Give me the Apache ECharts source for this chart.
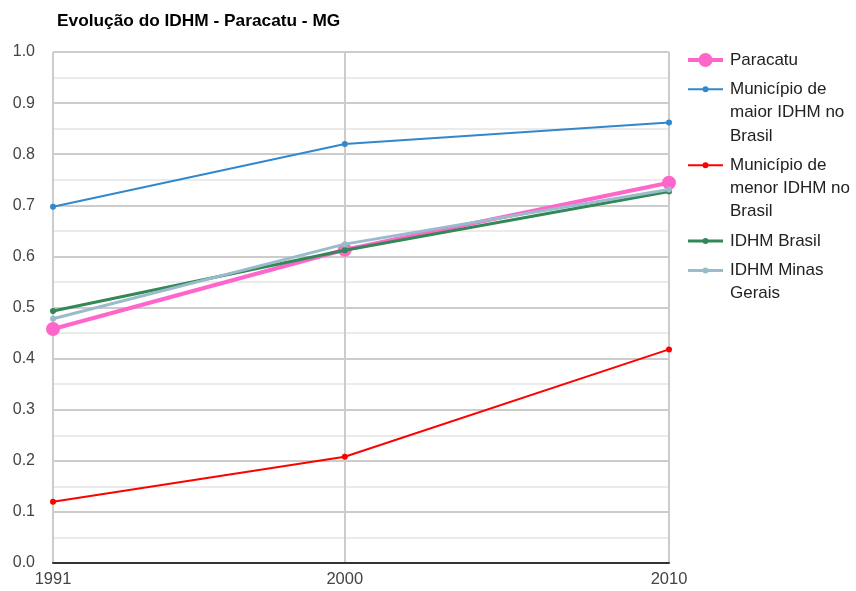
<!DOCTYPE html>
<html>
<head>
<meta charset="utf-8">
<script src="https://cdn.jsdelivr.net/npm/echarts@6/dist/echarts.min.js"></script>
<style>
  html, body { margin: 0; padding: 0; background: #fff; }
  #chart { width: 856px; height: 591px; }
</style>
</head>
<body>
<div id="chart"></div>
<script>
// Census years and IDHM values per series
const years = [1991, 2000, 2010];
const yTicks = [0, 0.1, 0.2, 0.3, 0.4, 0.5, 0.6, 0.7, 0.8, 0.9, 1.0];
const paracatu = [0.458, 0.613, 0.744];
const maiorIdhm = [0.697, 0.820, 0.862];
const menorIdhm = [0.120, 0.208, 0.418];
const idhmBrasil = [0.493, 0.612, 0.727];
const idhmMinas = [0.478, 0.624, 0.731];

const seriesDefs = [
  { name: 'Paracatu', label: ['Paracatu'], data: paracatu, color: '#ff66cc', width: 4, size: 14 },
  { name: 'Município de maior IDHM no Brasil', label: ['Município de', 'maior IDHM no', 'Brasil'], data: maiorIdhm, color: '#3388cc', width: 2, size: 6 },
  { name: 'Município de menor IDHM no Brasil', label: ['Município de', 'menor IDHM no', 'Brasil'], data: menorIdhm, color: '#ff0000', width: 2, size: 6 },
  { name: 'IDHM Brasil', label: ['IDHM Brasil'], data: idhmBrasil, color: '#338855', width: 3, size: 6 },
  { name: 'IDHM Minas Gerais', label: ['IDHM Minas', 'Gerais'], data: idhmMinas, color: '#99bbcc', width: 3, size: 6 }
];

const FONT = '"Liberation Sans", Arial, sans-serif';
const chart = echarts.init(document.getElementById('chart'), null, { renderer: 'canvas' });

// Legend drawn on the right, icons aligned with the first text line
const legendX = 688, iconW = 35, textX = 730, lineH = 23.3;
const legendGraphics = [];
let rowY = 60;
seriesDefs.forEach(s => {
  legendGraphics.push({
    type: 'line', shape: { x1: legendX, y1: rowY, x2: legendX + iconW, y2: rowY },
    style: { stroke: s.color, lineWidth: s.width }
  });
  legendGraphics.push({
    type: 'circle', shape: { cx: legendX + iconW / 2, cy: rowY, r: s.size / 2 },
    style: { fill: s.color }
  });
  s.label.forEach((t, i) => {
    legendGraphics.push({
      type: 'text', x: textX, y: rowY + i * lineH,
      style: { text: t, fill: '#222', font: '17px ' + FONT, verticalAlign: 'middle', align: 'left' }
    });
  });
  rowY += s.label.length * lineH + 6;
});

chart.setOption({
  animation: false,
  backgroundColor: '#ffffff',
  title: {
    text: 'Evolução do IDHM - Paracatu - MG',
    left: 52, top: 8,
    textStyle: { fontFamily: FONT, fontSize: 17.3, fontWeight: 'bold', color: '#000' }
  },
  grid: { left: 53, right: 187, top: 52, bottom: 28 },
  xAxis: {
    type: 'value', min: years[0], max: years[years.length - 1],
    axisLine: { show: true, lineStyle: { color: '#333', width: 2 } },
    axisTick: { show: false, customValues: years },
    axisLabel: {
      customValues: years, margin: 8, color: '#444',
      fontFamily: FONT, fontSize: 16.5, formatter: v => String(v)
    },
    splitLine: { show: true, lineStyle: { color: '#cccccc', width: 2 } }
  },
  yAxis: {
    type: 'value', min: 0, max: 1, interval: 0.1,
    axisLine: { show: false },
    axisTick: { show: false },
    axisLabel: {
      margin: 18, color: '#444', fontFamily: FONT, fontSize: 16,
      formatter: v => yTicks.some(t => Math.abs(t - v) < 1e-9) ? v.toFixed(1) : ''
    },
    splitLine: { show: true, lineStyle: { color: '#cccccc', width: 2 } },
    minorTick: { show: false, splitNumber: 2 },
    minorSplitLine: { show: true, lineStyle: { color: '#ebebeb', width: 2 } }
  },
  graphic: legendGraphics,
  series: seriesDefs.map((s, idx) => ({
    name: s.name,
    type: 'line',
    data: years.map((y, i) => [y, s.data[i]]),
    symbol: 'circle',
    symbolSize: s.size,
    z: 2 + idx,
    lineStyle: { color: s.color, width: s.width },
    itemStyle: { color: s.color },
    emphasis: { disabled: true }
  }))
});
</script>
</body>
</html>
